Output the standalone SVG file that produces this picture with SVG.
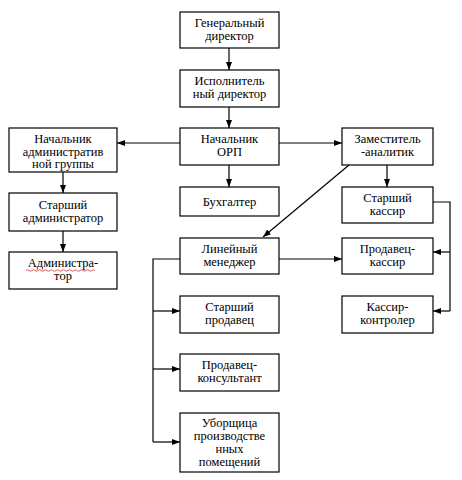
<svg xmlns="http://www.w3.org/2000/svg" width="462" height="480" viewBox="0 0 462 480">
<defs>
<style>
.b{fill:#fff;stroke:#000;stroke-width:1.2}
.t{font-family:'Liberation Serif','DejaVu Serif','Times New Roman',serif;font-size:12.5px;fill:#000;text-anchor:middle}
.c{fill:none;stroke:#000;stroke-width:1.2}
</style>
<marker id="a" viewBox="0 0 8 6" refX="8" refY="3" markerWidth="8" markerHeight="6" markerUnits="userSpaceOnUse" orient="auto">
<path d="M0,0L8,3L0,6z" fill="#000"/>
</marker>
</defs>
<rect width="462" height="480" fill="#fff"/>
<g id="connectors">
<path class="c" d="M229,48V70" marker-end="url(#a)"/>
<path class="c" d="M229,107V128" marker-end="url(#a)"/>
<path class="c" d="M229,165V187" marker-end="url(#a)"/>
<path class="c" d="M180,143H117" marker-end="url(#a)"/>
<path class="c" d="M279,143H342" marker-end="url(#a)"/>
<path class="c" d="M63,172V193" marker-end="url(#a)"/>
<path class="c" d="M63,231V252" marker-end="url(#a)"/>
<path class="c" d="M387,165V187" marker-end="url(#a)"/>
<path class="c" d="M349,165L263,237" marker-end="url(#a)"/>
<path class="c" d="M279,259H342" marker-end="url(#a)"/>
<path class="c" d="M433,202H450V311"/>
<path class="c" d="M450,252H433" marker-end="url(#a)"/>
<path class="c" d="M450,311H433" marker-end="url(#a)"/>
<path class="c" d="M180,259H153V442"/>
<path class="c" d="M153,311H180" marker-end="url(#a)"/>
<path class="c" d="M153,369H180" marker-end="url(#a)"/>
<path class="c" d="M153,442H180" marker-end="url(#a)"/>
</g>
<g id="gen"><rect class="b" x="180" y="12" width="99" height="36"/><text class="t" x="229.5" y="27">Генеральный</text><text class="t" x="229.5" y="40">директор</text></g>
<g id="isp"><rect class="b" x="180" y="70" width="99" height="37"/><text class="t" x="229.5" y="85">Исполнитель</text><text class="t" x="229.5" y="98">ный директор</text></g>
<g id="orp"><rect class="b" x="180" y="128" width="99" height="37"/><text class="t" x="229.5" y="143">Начальник</text><text class="t" x="229.5" y="156">ОРП</text></g>
<g id="admgr"><rect class="b" x="9" y="128" width="108" height="44"/><text class="t" x="63" y="143">Начальник</text><text class="t" x="63" y="155.5">административ</text><text class="t" x="63" y="168">ной группы</text></g>
<g id="stadm"><rect class="b" x="9" y="193" width="108" height="38"/><text class="t" x="63" y="209">Старший</text><text class="t" x="63" y="222">администратор</text></g>
<g id="adm"><rect class="b" x="9" y="252" width="108" height="37"/><text class="t" x="63" y="267">Администра-</text><text class="t" x="63" y="280">тор</text><path d="M26,270.5q1.5,-1.5 3,0t3,0t3,0t3,0t3,0t3,0t3,0t3,0t3,0t3,0t3,0t3,0t3,0t3,0t3,0t3,0t3,0t3,0t3,0t3,0t3,0t3,0t3,0" fill="none" stroke="#d33" stroke-width="0.8"/></g>
<g id="buh"><rect class="b" x="180" y="187" width="99" height="29"/><text class="t" x="229.5" y="206">Бухгалтер</text></g>
<g id="zam"><rect class="b" x="342" y="128" width="91" height="37"/><text class="t" x="387.5" y="143">Заместитель</text><text class="t" x="387.5" y="156">-аналитик</text></g>
<g id="stkas"><rect class="b" x="342" y="187" width="91" height="36"/><text class="t" x="387.5" y="202">Старший</text><text class="t" x="387.5" y="215">кассир</text></g>
<g id="prodkas"><rect class="b" x="342" y="238" width="91" height="36"/><text class="t" x="387.5" y="253">Продавец-</text><text class="t" x="387.5" y="266">кассир</text></g>
<g id="kaskon"><rect class="b" x="342" y="296" width="91" height="37"/><text class="t" x="387.5" y="311">Кассир-</text><text class="t" x="387.5" y="324">контролер</text></g>
<g id="linman"><rect class="b" x="180" y="238" width="99" height="36"/><text class="t" x="229.5" y="253">Линейный</text><text class="t" x="229.5" y="266">менеджер</text></g>
<g id="stprod"><rect class="b" x="180" y="296" width="99" height="37"/><text class="t" x="229.5" y="311">Старший</text><text class="t" x="229.5" y="324">продавец</text></g>
<g id="prodkons"><rect class="b" x="180" y="354" width="99" height="37"/><text class="t" x="229.5" y="369">Продавец-</text><text class="t" x="229.5" y="382">консультант</text></g>
<g id="uborsh"><rect class="b" x="180" y="413" width="99" height="59"/><text class="t" x="229.5" y="427">Уборщица</text><text class="t" x="229.5" y="440">производстве</text><text class="t" x="229.5" y="453">нных</text><text class="t" x="229.5" y="466">помещений</text></g>
</svg>
